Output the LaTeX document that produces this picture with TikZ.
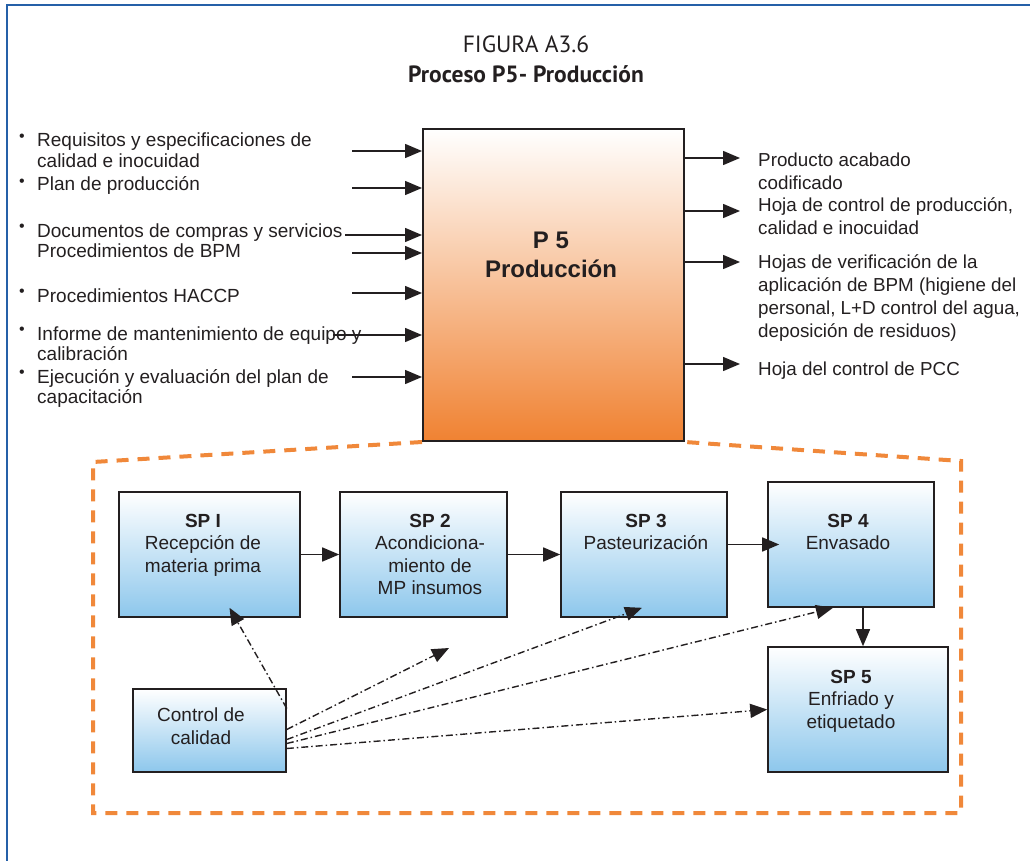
\documentclass[tikz,border=0pt]{standalone}
\usepackage{fontspec}
\setmainfont{Liberation Sans}
\newfontfamily\titlefont{PT Sans}
\usetikzlibrary{arrows.meta}

\definecolor{ink}{HTML}{231F20}
\definecolor{frameblue}{HTML}{2560A8}
\definecolor{zoomorange}{HTML}{F0883A}
\definecolor{boxorange}{HTML}{F08232}
\definecolor{boxpink}{HTML}{F5CFC2}
\definecolor{spblue}{HTML}{8DC7EC}
\definecolor{spmid}{HTML}{D2E5F3}

% Multi-line nodes below are placed by the baseline of their last line.
\begin{document}
\begin{tikzpicture}[x=1pt,y=-1pt,
  every node/.style={text=ink},
  tip/.style={-{Triangle[length=17pt,width=14pt]}},
  flow/.style={tip, draw=ink, line width=1.5pt},
  qcflow/.style={tip, draw=ink, line width=1.4pt,
    dash pattern=on 7pt off 3pt on 1.5pt off 3pt},
  mainbox/.style={draw=ink, line width=2pt, inner sep=0pt,
    top color=white, middle color=boxpink, bottom color=boxorange},
  spbox/.style={draw=ink, line width=1.6pt, inner sep=0pt,
    top color=white, middle color=spmid, bottom color=spblue},
  sptext/.style={anchor=base, align=center, inner sep=0pt,
    font=\fontsize{19}{22.5}\selectfont},
  intext/.style={anchor=base west, align=left, inner sep=0pt,
    font=\fontsize{19}{20.5}\selectfont},
  outtext/.style={anchor=base west, align=left, inner sep=0pt,
    font=\fontsize{18.8}{22.8}\selectfont},
  bul/.style={anchor=base, inner sep=0pt, font=\fontsize{16}{16}\selectfont},
  titletext/.style={anchor=base, inner sep=0pt,
    font=\titlefont\fontsize{23.5}{28}\selectfont},
  zoomline/.style={draw=zoomorange, line width=4pt, dash pattern=on 12pt off 9pt},
  framerule/.style={draw=frameblue, line width=2.2pt}
]
\useasboundingbox (0,0) rectangle (1030,861);

% page frame
\draw[framerule] (7,861) -- (7,5) -- (1030,5);

% heading
\node[titletext] (fig) at (526,53) {FIGURA A3.6};
\node[titletext, font=\titlefont\bfseries\fontsize{23.5}{28}\selectfont] (proc) at (526,83) {Proceso P5- Producción};

% process box
\node[mainbox, minimum width=261pt, minimum height=312pt] (P5) at (553.5,285) {};
\node[anchor=base, align=center, inner sep=0pt,
  font=\bfseries\fontsize{24}{29}\selectfont] (P5t) at (551,277) {P 5\\Producción};

% zoom outline of the sub-processes
\draw[zoomline] (P5.south west) -- (93,462) -- (93,813) -- (961,813) -- (961,461) -- (P5.south east);

% inputs
\node[bul] (b1) at (22,142) {•};
\node[intext] (in1) at (37,167.5) {Requisitos y especificaciones de\\calidad e inocuidad};
\node[bul] (b2) at (22,186) {•};
\node[intext] (in2) at (37,191) {Plan de producción};
\node[bul] (b3) at (22,231) {•};
\node[intext] (in3) at (37,237) {Documentos de compras y servicios};
\node[intext] (in4) at (37,257) {Procedimientos de BPM};
\node[bul] (b5) at (22,296) {•};
\node[intext] (in5) at (37,302) {Procedimientos HACCP};
\node[bul] (b6) at (22,334) {•};
\node[intext] (in6) at (37,360.5) {Informe de mantenimiento de equipo y\\calibración};
\node[bul] (b7) at (22,377) {•};
\node[intext] (in7) at (37,403.5) {Ejecución y evaluación del plan de\\capacitación};

\coordinate (a1) at (352,151);
\coordinate (a2) at (352,188);
\coordinate (a3) at (345,235);
\coordinate (a4) at (352,253);
\coordinate (a5) at (352,293);
\coordinate (a6) at (333,335);
\coordinate (a7) at (352,377);
\foreach \a in {a1,a2,a3,a4,a5,a6,a7}
  \draw[flow] (\a) -- (\a -| P5.west);

% outputs
\coordinate (r1) at (740,158);
\coordinate (r2) at (740,211);
\coordinate (r3) at (740,262);
\coordinate (r4) at (740,364);
\foreach \r in {r1,r2,r3,r4}
  \draw[flow] (\r -| P5.east) -- (\r);

\node[outtext] (out1) at (758,189.5) {Producto acabado\\codificado};
\node[outtext] (out2) at (758,234.5) {Hoja de control de producción,\\calidad e inocuidad};
\node[outtext] (out3) at (758,337) {Hojas de verificación de la\\aplicación de BPM (higiene del\\personal, L+D control del agua,\\deposición de residuos)};
\node[outtext] (out4) at (758,375) {Hoja del control de PCC};

% sub-processes
\node[spbox, minimum width=181pt, minimum height=125pt] (sp1) at (209.5,554.5) {};
\node[spbox, minimum width=167pt, minimum height=125pt] (sp2) at (423.5,554.5) {};
\node[spbox, minimum width=166pt, minimum height=125pt] (sp3) at (644,554.5) {};
\node[spbox, minimum width=166pt, minimum height=125pt] (sp4) at (851,544.5) {};
\node[spbox, minimum width=180pt, minimum height=125pt] (sp5) at (858,709.5) {};
\node[spbox, minimum width=153pt, minimum height=83pt] (qc) at (209.5,730.5) {};

\node[sptext] (sp1t) at (203,572) {\textbf{SP I}\\Recepción de\\materia prima};
\node[sptext] (sp2t) at (430,594.5) {\textbf{SP 2}\\Acondiciona-\\miento de\\MP insumos};
\node[sptext] (sp3t) at (646,549.5) {\textbf{SP 3}\\Pasteurización};
\node[sptext] (sp4t) at (848,549.5) {\textbf{SP 4}\\Envasado};
\node[sptext] (sp5t) at (851,728) {\textbf{SP 5}\\Enfriado y\\etiquetado};
\node[sptext] (qct) at (201,744) {Control de\\calidad};

\draw[flow] (sp1.east) -- (sp2.west);
\draw[flow] (sp2.east) -- (sp3.west);
\draw[flow] (sp3.east |- sp4.west) -- ([xshift=12pt]sp4.west);
\draw[flow] ([xshift=12pt]sp4.south) -- ([xshift=12pt]sp4.south |- sp5.north);

% quality control links
\coordinate (qcfree) at (449,648);
\draw[qcflow] ([yshift=22pt]qc.east) -- ([xshift=20pt,yshift=10pt]sp1.south);
\draw[qcflow] ([yshift=1pt]qc.east) -- (qcfree);
\draw[qcflow] ([yshift=-9pt]qc.east) -- ([xshift=-2pt,yshift=10pt]sp3.south);
\draw[qcflow] ([yshift=-13pt]qc.east) -- ([xshift=-18pt]sp4.south);
\draw[qcflow] ([yshift=-18pt]qc.east) -- (sp5.west);
\end{tikzpicture}
\end{document}
